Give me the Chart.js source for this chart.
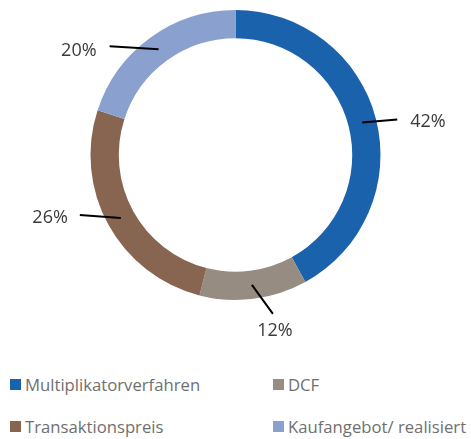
<!DOCTYPE html>
<html>
<head>
<meta charset="utf-8">
<script src="https://cdn.jsdelivr.net/npm/chart.js@4"></script>
<style>
  html, body { margin: 0; padding: 0; background: #fff; }
  body { width: 471px; height: 439px; position: relative; overflow: hidden; font-family: "Open Sans", sans-serif; }
  #wrap { position: absolute; left: 0; top: 0; width: 471px; height: 350px; }
  #legend { position: absolute; left: 10px; top: 373px; width: 461px; display: grid; grid-template-columns: 263px 198px; row-gap: 20px; }
  .item { display: flex; align-items: center; height: 22px; font-size: 16.7px; color: #6f6f6f; white-space: nowrap; }
  .box { width: 11px; height: 11px; margin-right: 4px; flex: none; }
</style>
</head>
<body>
<div id="wrap"><canvas id="pie"></canvas></div>
<div id="legend"></div>
<script>
const categories = ['Multiplikatorverfahren', 'DCF', 'Transaktionspreis', 'Kaufangebot/ realisiert'];
const shares = [42, 12, 26, 20];
const colors = ['#1b62ad', '#968c82', '#876550', '#8aa1cf'];

// leader line + label layout per slice (offsets from the slice centre point)
const leaders = [
    {dx: 35, dy: -3, tx: 13, ty: 2, align: 'left'},
    {dx: 21, dy: 29, tx: 2, ty: 17, align: 'center'},
    {dx: -41, dy: -3, tx: -12, ty: 3, align: 'right'},
    {dx: -49, dy: -3, tx: -13, ty: 5, align: 'right'}
];

const leaderPlugin = {
    id: 'leaders',
    afterDatasetsDraw(chart) {
        const ctx = chart.ctx;
        const meta = chart.getDatasetMeta(0);
        ctx.save();
        meta.data.forEach((arc, i) => {
            const p = arc.getCenterPoint();
            const l = leaders[i];
            const ex = p.x + l.dx, ey = p.y + l.dy;
            ctx.beginPath();
            ctx.moveTo(p.x, p.y);
            ctx.lineTo(ex, ey);
            ctx.strokeStyle = '#000';
            ctx.lineWidth = 2;
            ctx.stroke();
            ctx.fillStyle = '#3a3a3a';
            ctx.font = '18px "Open Sans"';
            ctx.textAlign = l.align;
            ctx.textBaseline = 'middle';
            ctx.fillText(shares[i] + '%', ex + l.tx, ey + l.ty);
        });
        ctx.restore();
    }
};

new Chart(document.getElementById('pie').getContext('2d'), {
    type: 'doughnut',
    data: {
        labels: categories,
        datasets: [{data: shares, backgroundColor: colors, borderWidth: 0}]
    },
    options: {
        responsive: true,
        maintainAspectRatio: false,
        animation: false,
        events: [],
        cutout: '80.5%',
        layout: {padding: {top: 10, bottom: 50}},
        plugins: {legend: {display: false}, tooltip: {enabled: false}}
    },
    plugins: [leaderPlugin]
});

const legend = document.getElementById('legend');
categories.forEach((name, i) => {
    const d = document.createElement('div');
    d.className = 'item';
    d.innerHTML = '<span class="box" style="background:' + colors[i] + '"></span>' + name;
    legend.appendChild(d);
});
</script>
</body>
</html>
